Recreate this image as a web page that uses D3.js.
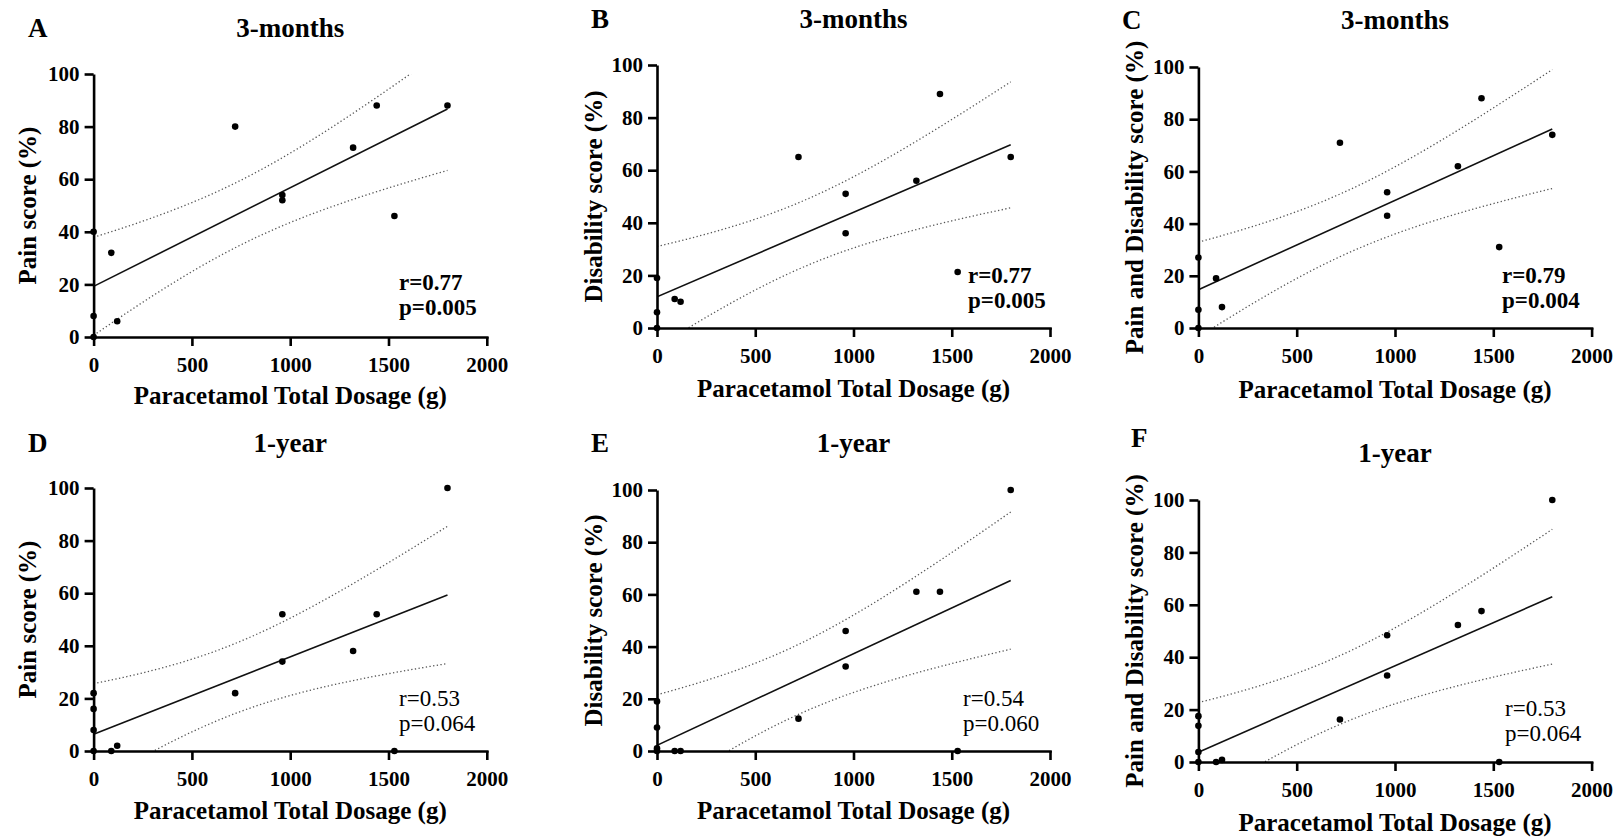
<!DOCTYPE html>
<html>
<head>
<meta charset="utf-8">
<script src="https://cdn.jsdelivr.net/npm/d3@7"></script>
<style>
  html, body { margin: 0; padding: 0; background: #fff; }
  svg { display: block; }
  svg text { font-family: "Liberation Serif", Tinos, "Times New Roman", Times, "DejaVu Serif", serif !important; fill: #000; }
</style>
</head>
<body>
<svg id="chart" width="1619" height="838"></svg>
<script>
// Paracetamol total dosage (g) per patient
const dosage3Months = [0, 0, 0, 90, 120, 720, 960, 960, 1320, 1440, 1530, 1800];
const dosage1Year   = [0, 0, 0, 0, 90, 120, 720, 960, 960, 1320, 1440, 1530, 1800];

// Scores (%) at 3 months
const painScore3Months       = [40, 8, 0, 32, 6, 80, 54, 52, 72, 88, 46, 88];
const disabilityScore3Months = [19, 6, 0, 11, 10, 65, 51, 36, 56, 89, 21.3, 65];
const combinedScore3Months   = [27, 7, 0, 19, 8, 71, 52, 43, 62, 88, 31, 74];

// Scores (%) at 1 year
const painScore1Year       = [22, 16, 8, 0, 0, 2, 22, 52, 34, 38, 52, 0, 100];
const disabilityScore1Year = [19, 9, 1, 0, 0, 0, 12.4, 46, 32.4, 61, 61, 0, 100];
const combinedScore1Year   = [17.5, 13.8, 3.8, 0, 0, 0.8, 16.2, 48.4, 33, 52.3, 57.6, 0, 100];

// Axis ticks
const xTicks = [0, 500, 1000, 1500, 2000];
const yTicks = [0, 20, 40, 60, 80, 100];

// Panel texts
const panelLetters = ["A", "B", "C", "D", "E", "F"];
const panelTitles  = ["3-months", "3-months", "3-months", "1-year", "1-year", "1-year"];
const yAxisTitles  = ["Pain score (%)", "Disability score (%)", "Pain and Disability score (%)",
                      "Pain score (%)", "Disability score (%)", "Pain and Disability score (%)"];
const xAxisTitle   = "Paracetamol Total Dosage (g)";
const rLabels      = ["r=0.77", "r=0.77", "r=0.79", "r=0.53", "r=0.54", "r=0.53"];
const pLabels      = ["p=0.005", "p=0.005", "p=0.004", "p=0.064", "p=0.060", "p=0.064"];

const panelX = [dosage3Months, dosage3Months, dosage3Months, dosage1Year, dosage1Year, dosage1Year];
const panelY = [painScore3Months, disabilityScore3Months, combinedScore3Months,
                painScore1Year, disabilityScore1Year, combinedScore1Year];

// Two-sided 95% Student t critical values by degrees of freedom
const tCrit = {10: 2.228139, 11: 2.200985};

// Panel geometry
const layout = [
  {l: 93.6,  r: 486.8,  t: 74,  b: 337, titleY: 37,  letterX: 28,   letterY: 37,  yTitleX: 36,   xTitleY: 404, statX: 399,  statY: 290, bold: true},
  {l: 657,   r: 1050,   t: 65,  b: 328, titleY: 28,  letterX: 591,  letterY: 28,  yTitleX: 602,  xTitleY: 397, statX: 968,  statY: 283, bold: true},
  {l: 1198.4,r: 1591.6, t: 67,  b: 328, titleY: 29,  letterX: 1122, letterY: 29,  yTitleX: 1143, xTitleY: 398, statX: 1502, statY: 283, bold: true},
  {l: 93.6,  r: 486.8,  t: 488, b: 751, titleY: 452, letterX: 28,   letterY: 452, yTitleX: 36,   xTitleY: 819, statX: 399,  statY: 706, bold: false},
  {l: 657,   r: 1050,   t: 490, b: 751, titleY: 452, letterX: 591,  letterY: 452, yTitleX: 602,  xTitleY: 819, statX: 963,  statY: 706, bold: false},
  {l: 1198.4,r: 1591.6, t: 500, b: 762, titleY: 462, letterX: 1131, letterY: 447, yTitleX: 1143, xTitleY: 831, statX: 1505, statY: 716, bold: false}
];

const svg = d3.select("#chart");

// Least-squares fit with 95% confidence band of the mean response
function regression(xs, ys) {
  const n = xs.length;
  const mx = d3.mean(xs), my = d3.mean(ys);
  let sxx = 0, sxy = 0;
  for (let i = 0; i < n; i++) { sxx += (xs[i] - mx) ** 2; sxy += (xs[i] - mx) * (ys[i] - my); }
  const slope = sxy / sxx, intercept = my - slope * mx;
  let sse = 0;
  for (let i = 0; i < n; i++) sse += (ys[i] - (intercept + slope * xs[i])) ** 2;
  const s = Math.sqrt(sse / (n - 2));
  const t = tCrit[n - 2];
  const fit = x => intercept + slope * x;
  const half = x => t * s * Math.sqrt(1 / n + (x - mx) ** 2 / sxx);
  return {fit, half};
}

layout.forEach((L, i) => {
  const xs = panelX[i], ys = panelY[i];
  const x = d3.scaleLinear().domain([0, 2000]).range([L.l, L.r]);
  const y = d3.scaleLinear().domain([0, 100]).range([L.b, L.t]);
  const g = svg.append("g");
  const cx = (L.l + L.r) / 2, cy = (L.t + L.b) / 2;

  // Panel letter and title
  g.append("text").attr("x", L.letterX).attr("y", L.letterY)
    .attr("font-size", 27).attr("font-weight", "bold").text(panelLetters[i]);
  g.append("text").attr("x", cx).attr("y", L.titleY).attr("text-anchor", "middle")
    .attr("font-size", 27).attr("font-weight", "bold").text(panelTitles[i]);

  // Regression line and confidence band
  const reg = regression(xs, ys);
  const x0 = d3.min(xs), x1 = d3.max(xs);
  const samples = d3.range(0, 61).map(k => x0 + (x1 - x0) * k / 60);
  const clipId = "clip" + i;
  svg.append("clipPath").attr("id", clipId).append("rect")
    .attr("x", L.l).attr("y", L.t).attr("width", L.r - L.l).attr("height", L.b - L.t);
  const band = g.append("g").attr("clip-path", `url(#${clipId})`);
  const lineGen = d3.line().x(d => x(d[0])).y(d => y(d[1]));
  [1, -1].forEach(sign => {
    band.append("path")
      .attr("d", lineGen(samples.map(v => [v, reg.fit(v) + sign * reg.half(v)])))
      .attr("fill", "none").attr("stroke", "#555").attr("stroke-width", 1.3)
      .attr("stroke-dasharray", "1.3,2.4");
  });
  band.append("path")
    .attr("d", lineGen([[x0, reg.fit(x0)], [x1, reg.fit(x1)]]))
    .attr("fill", "none").attr("stroke", "#111").attr("stroke-width", 1.6);

  // Axes
  const xAxis = d3.axisBottom(x).tickValues(xTicks).tickFormat(d3.format("d"))
    .tickSize(9).tickSizeOuter(0).tickPadding(11);
  const yAxis = d3.axisLeft(y).tickValues(yTicks).tickFormat(d3.format("d"))
    .tickSize(9).tickSizeOuter(0).tickPadding(5);
  const gx = g.append("g").attr("transform", `translate(0,${L.b})`).call(xAxis);
  const gy = g.append("g").attr("transform", `translate(${L.l},0)`).call(yAxis);
  [gx, gy].forEach(ax => {
    ax.attr("font-family", null);
    ax.selectAll("path.domain").attr("stroke", "#000").attr("stroke-width", 2.6);
    ax.selectAll(".tick line").attr("stroke", "#000").attr("stroke-width", 2.6);
    ax.selectAll(".tick text").attr("font-size", 21).attr("font-weight", "bold").attr("fill", "#000");
  });
  gx.select("path.domain").attr("stroke-linecap", "square");

  // Axis titles
  g.append("text").attr("x", cx).attr("y", L.xTitleY).attr("text-anchor", "middle")
    .attr("font-size", 25).attr("font-weight", "bold").text(xAxisTitle);
  g.append("text").attr("transform", `translate(${L.yTitleX},${cy}) rotate(-90)`)
    .attr("text-anchor", "middle").attr("font-size", 25).attr("font-weight", "bold")
    .text(yAxisTitles[i]);

  // Data points
  g.append("g").selectAll("circle").data(xs.map((v, k) => [v, ys[k]])).join("circle")
    .attr("cx", d => x(d[0])).attr("cy", d => y(d[1])).attr("r", 3.3).attr("fill", "#000");

  // Correlation statistics
  const fw = L.bold ? "bold" : "normal";
  g.append("text").attr("x", L.statX).attr("y", L.statY)
    .attr("font-size", 23).attr("font-weight", fw).text(rLabels[i]);
  g.append("text").attr("x", L.statX).attr("y", L.statY + 25)
    .attr("font-size", 23).attr("font-weight", fw).text(pLabels[i]);
});
</script>
</body>
</html>
